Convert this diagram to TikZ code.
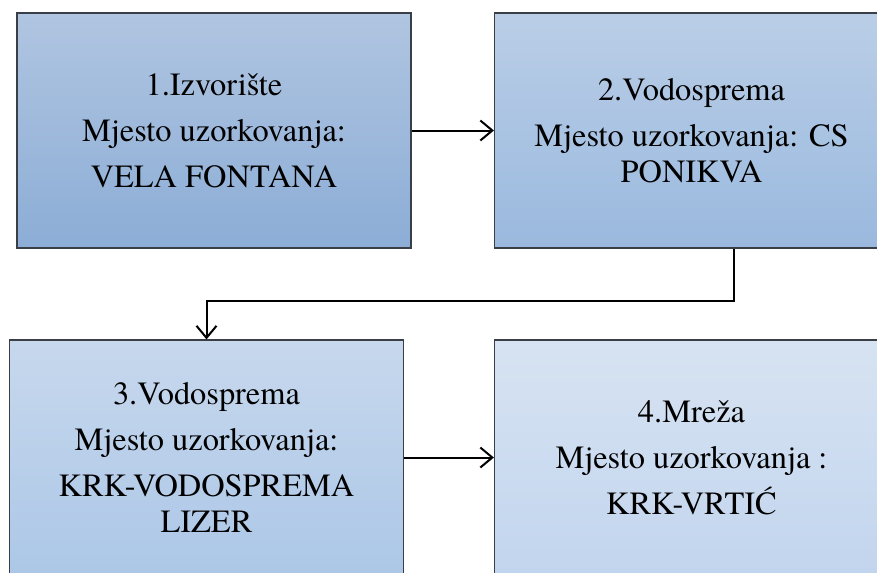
\documentclass[tikz,border=0pt]{standalone}
\usepackage{fontspec}
\setmainfont{texgyretermes}[Extension=.otf, UprightFont=*-regular]
\usetikzlibrary{arrows.meta, calc}
\definecolor{edgegray}{RGB}{58,62,70}
\definecolor{topA}{RGB}{176,197,225}
\definecolor{botA}{RGB}{140,173,214}
\definecolor{topB}{RGB}{186,206,231}
\definecolor{botB}{RGB}{154,185,222}
\definecolor{topC}{RGB}{199,216,237}
\definecolor{botC}{RGB}{172,199,231}
\definecolor{topD}{RGB}{215,227,242}
\definecolor{botD}{RGB}{194,213,238}
\tikzset{box/.style={draw=edgegray, line width=0.9pt, inner sep=0pt,
    minimum width=295.5pt, minimum height=176.25pt, align=center,
    font=\fontsize{24.3}{26.5}\selectfont},
  arr/.style={line width=1.5pt, -{Straight Barb[length=9pt,width=15pt,line width=1.5pt]}}}

\begin{document}
\begin{tikzpicture}[x=0.75pt, y=-0.75pt]
  \useasboundingbox (0,0) rectangle (877,572);
  \clip (0,0) rectangle (877,572);
  % the four sampling points
  \node[box, top color=topA, bottom color=botA] (B1) at (214,130.5)
    {1.Izvorište\\[8pt]Mjesto uzorkovanja:\\[8pt]VELA FONTANA};
  \node[box, top color=topB, bottom color=botB] (B2) at (691.5,130.5)
    {2.Vodosprema\\[8pt]Mjesto uzorkovanja: CS\\PONIKVA};
  \node[box, top color=topC, bottom color=botC] (B3) at (206.5,457.5)
    {3.Vodosprema\\[8pt]Mjesto uzorkovanja:\\[8pt]KRK-VODOSPREMA\\LIZER};
  \node[box, top color=topD, bottom color=botD] (B4) at (691.5,457.5)
    {4.Mreža\\[8pt]Mjesto uzorkovanja :\\[8pt]KRK-VRTIĆ};
  % flow
  \draw[arr] (B1) -- (B2);
  \draw[arr] ($(B2.south)+(42.5,0)$) -- ++(0,52) -| (B3.north);
  \draw[arr] (B3) -- (B4);
\end{tikzpicture}
\end{document}
